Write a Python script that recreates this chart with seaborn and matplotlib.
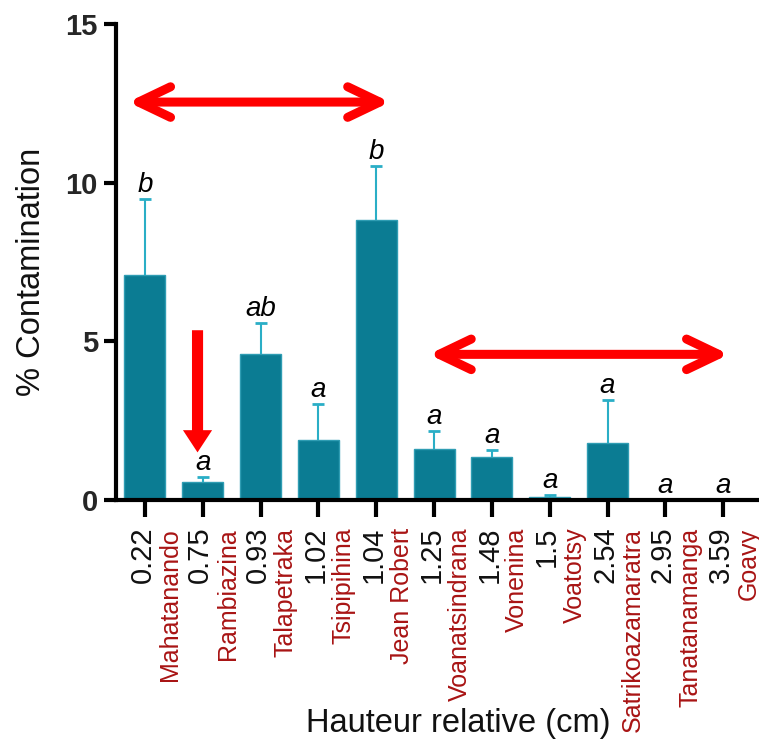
import numpy as np
import matplotlib
matplotlib.use("Agg")
import matplotlib.pyplot as plt
import matplotlib.transforms as mtransforms
import seaborn as sns

# Relative height classes (cm), site names and contamination results
heights = ["0.22", "0.75", "0.93", "1.02", "1.04", "1.25", "1.48", "1.5", "2.54", "2.95", "3.59"]
sites = ["Mahatanando", "Rambiazina", "Talapetraka", "Tsipipihina", "Jean Robert",
         "Voanatsindrana", "Vonenina", "Voatotsy", "Satrikoazamaratra", "Tanatanamanga", "Goavy"]
means = [7.08, 0.57, 4.60, 1.90, 8.82, 1.60, 1.36, 0.08, 1.80, 0.0, 0.0]
sems = [2.40, 0.16, 0.98, 1.13, 1.70, 0.58, 0.22, 0.08, 1.35, 0.0, 0.0]
letters = ["b", "a", "ab", "a", "b", "a", "a", "a", "a", "a", "a"]

# Group brackets (x span, y level) and the highlighted drop
bracket_left = (-0.29, 4.24, 12.54)
bracket_right = (4.91, 10.10, 4.59)
drop = (0.91, 5.35, 1.5)

BAR = "#0b7c93"
ERR = "#2aaec6"
NAME_RED = "#a81414"

sns.set_theme(style="white")
plt.rcParams["font.family"] = ["Liberation Sans", "DejaVu Sans"]

fig = plt.figure(figsize=(7.59, 7.55), dpi=100)
ax = fig.add_axes([116 / 759, 1 - 500 / 755, (759 - 116) / 759, (500 - 24) / 755])

sns.barplot(x=heights, y=means, order=heights, color=BAR, saturation=1,
            width=0.71, edgecolor="#2f9db3", linewidth=1.0, errorbar=None, ax=ax)

pos = np.arange(len(heights))
m = np.array(means)
e = np.array(sems)
has_err = e > 0
_, caps, _ = ax.errorbar(pos[has_err], m[has_err], yerr=[np.zeros(has_err.sum()), e[has_err]],
                         fmt="none", ecolor=ERR, elinewidth=1.5, capsize=4, capthick=2, zorder=3)
caps[0].set_visible(False)

for i, lab in enumerate(letters):
    ax.annotate(lab, xy=(i, means[i] + sems[i]), xytext=(0, 0.5), textcoords="offset points",
                ha="center", va="bottom", fontsize=20, style="italic", color="black")

# Axes styling
ax.set_xlim(-0.5, 10.62)
ax.set_ylim(0, 15)
for side in ["top", "right"]:
    ax.spines[side].set_visible(False)
for side in ["left", "bottom"]:
    ax.spines[side].set_linewidth(3)
    ax.spines[side].set_color("black")

ax.set_yticks([0, 5, 10, 15])
ax.set_yticklabels(["0", "5", "10", "15"], fontsize=21, fontweight="bold")
ax.tick_params(axis="y", length=9, width=3, pad=4, color="black", left=True)
ax.set_xticks(pos)
ax.set_xticklabels(heights, rotation=90, va="top", ha="center", fontsize=21, color="#111111")
ax.tick_params(axis="x", length=12, width=3, pad=7, color="black", bottom=True)
shift_left = mtransforms.ScaledTranslation(-2.5 / 100, 0, fig.dpi_scale_trans)
for lbl in ax.get_xticklabels():
    lbl.set_transform(lbl.get_transform() + shift_left)

# Site names sit beside each height value
for i, name in enumerate(sites):
    ax.annotate(name, xy=(i, 0), xycoords=("data", "axes fraction"), xytext=(18.3, -20),
                textcoords="offset points", rotation=90, ha="center", va="top",
                fontsize=18, color=NAME_RED, annotation_clip=False)

ax.set_xlabel("Hauteur relative (cm)", fontsize=23.5, color="#111111")
ax.xaxis.set_label_coords(0.533, -0.437)
ax.set_ylabel("% Contamination", fontsize=23.5, color="#111111")
ax.yaxis.set_label_coords(-0.107, 0.479)

# Red double-headed brackets
for x0, x1, y in (bracket_left, bracket_right):
    ax.annotate("", xy=(x1, y), xytext=(x0, y),
                arrowprops=dict(arrowstyle="<->,head_length=2.3,head_width=1.1",
                                mutation_scale=10, lw=6.5, color="red",
                                shrinkA=0, shrinkB=0, capstyle="round", joinstyle="round"))

# Downward arrow pointing at the low bar
ax.annotate("", xy=(drop[0], drop[2]), xytext=(drop[0], drop[1]),
            arrowprops=dict(arrowstyle="simple,head_length=1.6,head_width=2.1,tail_width=0.8",
                            mutation_scale=10, lw=0, color="red", shrinkA=0, shrinkB=0))

fig.savefig("out.png", dpi=100)
